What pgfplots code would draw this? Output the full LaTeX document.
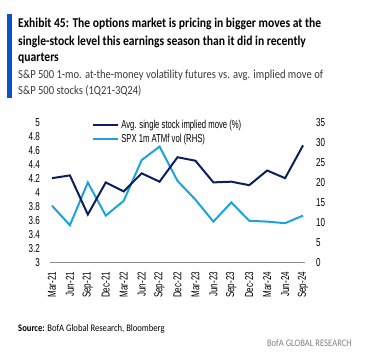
\documentclass[border=0pt]{standalone}
\usepackage{fontspec}
\usepackage{pgfplots}
\pgfplotsset{compat=1.18}
\setmainfont{Carlito}
\newfontfamily\narrow[FakeStretch=0.7]{Liberation Sans}
\newfontfamily\legfont[FakeStretch=0.67]{Liberation Sans}
\newfontfamily\titlefont[FakeStretch=0.86]{Carlito}
\definecolor{navy}{HTML}{0B1F5E}
\definecolor{lblue}{HTML}{1CA3DB}
\definecolor{barblue}{HTML}{0A52C8}
\definecolor{subgray}{HTML}{3A3A3A}
\begin{document}
\begin{tikzpicture}
\path[use as bounding box] (0,0) rectangle (369pt,-360pt);
\fill[barblue] (7pt,-14pt) rectangle (12pt,-98pt);
\node[anchor=base west,inner sep=0pt,font=\titlefont\bfseries\fontsize{13.5pt}{15pt}\selectfont] at (18pt,-27.5pt) {Exhibit 45: The options market is pricing in bigger moves at the};
\node[anchor=base west,inner sep=0pt,font=\titlefont\bfseries\fontsize{13.5pt}{15pt}\selectfont] at (18pt,-45pt) {single-stock level this earnings season than it did in recently};
\node[anchor=base west,inner sep=0pt,font=\titlefont\bfseries\fontsize{13.5pt}{15pt}\selectfont] at (18pt,-61.5pt) {quarters};
\node[anchor=base west,inner sep=0pt,text=subgray,font=\titlefont\fontsize{12.3pt}{14pt}\selectfont] at (18pt,-78.5pt) {S\&P 500 1-mo. at-the-money volatility futures vs. avg. implied move of};
\node[anchor=base west,inner sep=0pt,text=subgray,font=\titlefont\fontsize{12.3pt}{14pt}\selectfont] at (18pt,-94.5pt) {S\&P 500 stocks (1Q21-3Q24)};
\node[anchor=base west,inner sep=0pt,font=\titlefont\fontsize{10pt}{12pt}\selectfont] at (18pt,-331pt) {\textbf{Source:} BofA Global Research, Bloomberg};
\node[anchor=base east,inner sep=0pt,text=gray,font=\titlefont\fontsize{10pt}{12pt}\selectfont] at (352pt,-346pt) {BofA GLOBAL RESEARCH};

\begin{axis}[
  at={(50pt,-262.7pt)}, anchor=south west,
  width=255pt, height=139.7pt, scale only axis,
  xmin=-0.11, xmax=14.11, ymin=0, ymax=35,
  axis x line=none,
  axis y line*=right, y axis line style={draw=none},
  ytick={0,5,...,35}, major tick length=0pt,
  yticklabel style={font=\narrow\fontsize{11.5pt}{12pt}\selectfont, inner sep=0pt, anchor=west},
  yticklabel shift=11pt,
  /pgf/number format/assume math mode=true,
]
\addplot[lblue, line width=2pt] coordinates {
(0,14.3) (1,9.4) (2,20.1) (3,11.8) (4,15.5) (5,25.7) (6,29.1) (7,20.5)
(8,15.8) (9,10.3) (10,15.1) (11,10.5) (12,10.3) (13,9.9) (14,11.8)};
\end{axis}

\begin{axis}[
  at={(50pt,-262.7pt)}, anchor=south west,
  width=255pt, height=139.7pt, scale only axis,
  xmin=-0.11, xmax=14.11, ymin=3, ymax=5,
  axis x line*=bottom, x axis line style={draw=gray!90, line width=1.3pt, -},
  axis y line*=left, y axis line style={draw=none},
  ytick={3,3.2,...,5.01}, major tick length=0pt,
  xtick={0,...,14},
  xticklabels={Mar-21,Jun-21,Sep-21,Dec-21,Mar-22,Jun-22,Sep-22,Dec-22,Mar-23,Jun-23,Sep-23,Dec-23,Mar-24,Jun-24,Sep-24},
  xticklabel style={font=\narrow\fontsize{11.5pt}{12pt}\selectfont, inner sep=0pt, rotate=90, anchor=east},
  xticklabel shift=9pt,
  yticklabel style={font=\narrow\fontsize{11.5pt}{12pt}\selectfont, inner sep=0pt, anchor=east},
  yticklabel shift=10pt,
  /pgf/number format/assume math mode=true,
  legend style={at={(rel axis cs:0.165,1.035)}, anchor=north west, draw=none, fill=none, inner sep=0pt,
    font=\legfont\fontsize{11.5pt}{12pt}\selectfont, row sep=0pt},
  legend cell align=left,
  legend image code/.code={\draw[#1] (0pt,0pt) -- (25pt,0pt);},
]
\addplot[navy, line width=2pt] coordinates {
(0,4.21) (1,4.25) (2,3.69) (3,4.15) (4,4.02) (5,4.28) (6,4.16) (7,4.51)
(8,4.46) (9,4.15) (10,4.16) (11,4.11) (12,4.32) (13,4.21) (14,4.68)};
\addlegendentry{Avg. single stock implied move (\%)}
\addlegendimage{lblue, line width=2pt}
\addlegendentry{SPX 1m ATMf vol (RHS)}
\end{axis}
\end{tikzpicture}
\end{document}
